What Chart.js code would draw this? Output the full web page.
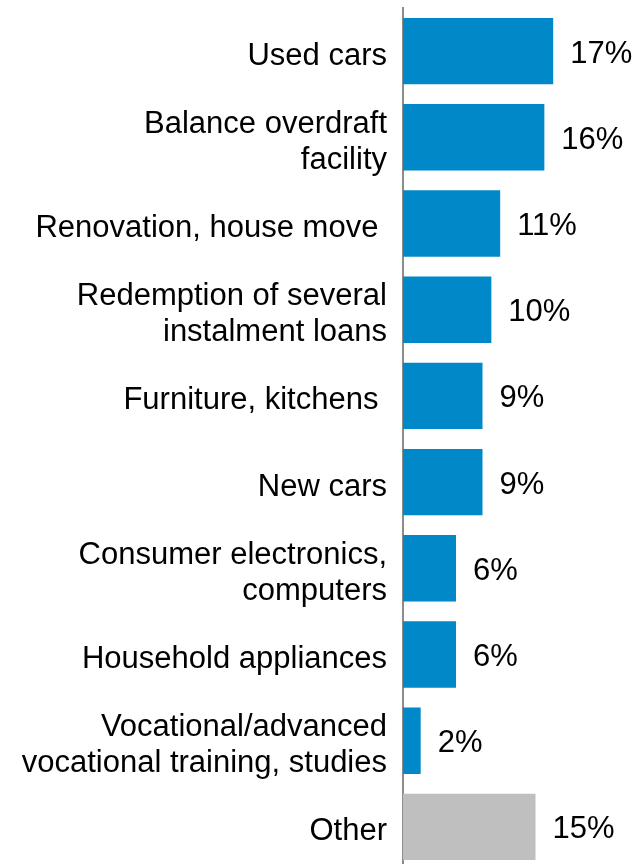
<!DOCTYPE html>
<html>
<head>
<meta charset="utf-8">
<script src="https://cdn.jsdelivr.net/npm/chart.js@4"></script>
<style>
    html, body { margin: 0; padding: 0; background: #fff; overflow: hidden; }
    #wrap { width: 638px; height: 870px; }
</style>
</head>
<body>
<div id="wrap"><canvas id="loanChart"></canvas></div>
<script>
// Purposes of instalment loans, share in %
const categories = [
    "Used cars",
    ["Balance overdraft", "facility"],
    "Renovation, house move ",
    ["Redemption of several", "instalment loans"],
    "Furniture, kitchens ",
    "New cars",
    ["Consumer electronics,", "computers"],
    "Household appliances",
    ["Vocational/advanced", "vocational training, studies"],
    "Other"
];
const shares = [17, 16, 11, 10, 9, 9, 6, 6, 2, 15];
const barColors = ["#0088C9", "#0088C9", "#0088C9", "#0088C9", "#0088C9",
                   "#0088C9", "#0088C9", "#0088C9", "#0088C9", "#BFBFBF"];

const FONT = "Liberation Sans, Arial, sans-serif";

// writes "17%" etc. to the right of each bar
const valueLabels = {
    id: "valueLabels",
    afterDatasetsDraw(chart) {
        const ctx = chart.ctx;
        const meta = chart.getDatasetMeta(0);
        ctx.save();
        ctx.font = "31px " + FONT;
        ctx.fillStyle = "#000";
        ctx.textAlign = "left";
        ctx.textBaseline = "middle";
        meta.data.forEach((bar, i) => {
            ctx.fillText(shares[i] + "%", bar.x + 17, bar.y + 3);
        });
        ctx.restore();
    }
};

let ctx = document.getElementById("loanChart").getContext("2d");
let loanChart = new Chart(ctx, {
    type: "bar",
    data: {
        labels: categories,
        datasets: [{
            data: shares,
            backgroundColor: barColors,
            borderWidth: 0,
            categoryPercentage: 1,
            barPercentage: 0.77
        }]
    },
    options: {
        indexAxis: "y",
        responsive: true,
        maintainAspectRatio: false,
        animation: false,
        layout: { padding: { top: 8, right: 0, bottom: 0, left: 0 } },
        plugins: {
            legend: { display: false },
            tooltip: { enabled: false }
        },
        scales: {
            x: {
                display: false,
                min: 0,
                max: 26.6
            },
            y: {
                afterFit(scale) {
                    // fixed label column; no extra room above/below for the tick labels
                    scale.width = 403;
                    scale.paddingTop = 0;
                    scale.paddingBottom = 0;
                },
                grid: { display: false, drawTicks: false, tickLength: 0 },
                border: { display: true, color: "#8C8C8C", width: 2 },
                ticks: {
                    padding: 16,
                    labelOffset: 5,
                    color: "#000",
                    font: { family: FONT, size: 31, lineHeight: 1.16 }
                }
            }
        }
    },
    plugins: [valueLabels]
});
</script>
</body>
</html>
